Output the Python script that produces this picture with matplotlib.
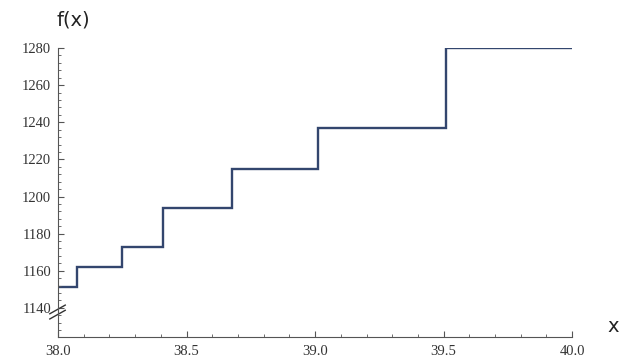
import matplotlib.pyplot as plt
import numpy as np

# Step function data
edges = [38.0, 38.074, 38.249, 38.409, 38.677, 39.012, 39.510, 40.0]
levels = [1151, 1162, 1173, 1194, 1215, 1237, 1280]

x_ticks = [38.0, 38.5, 39.0, 39.5, 40.0]
x_tick_labels = ["38.0", "38.5", "39.0", "39.5", "40.0"]
y_ticks = [1140, 1160, 1180, 1200, 1220, 1240, 1260, 1280]

line_color = "#33466e"
axis_color = "#555555"

fig = plt.figure(figsize=(6.24, 3.58), dpi=100)
ax = fig.add_axes([0.093, 0.059, 0.824, 0.807])

ax.stairs(levels, edges, baseline=None, color=line_color, linewidth=1.7)

ax.set_xlim(38.0, 40.0)
ax.set_ylim(1124.4, 1280)

for side in ["top", "right"]:
    ax.spines[side].set_visible(False)
for side in ["left", "bottom"]:
    ax.spines[side].set_color(axis_color)
    ax.spines[side].set_linewidth(0.8)

ax.set_xticks(x_ticks)
ax.set_xticklabels(x_tick_labels)
ax.set_xticks(np.arange(38.0, 40.01, 0.1), minor=True)
ax.set_yticks(y_ticks)
ax.set_yticks(np.arange(1128, 1281, 4), minor=True)

ax.tick_params(axis="both", which="major", direction="in", length=4,
               color=axis_color, labelcolor="#333333", labelsize=10.5)
ax.tick_params(axis="both", which="minor", direction="in", length=2,
               color=axis_color)
ax.tick_params(axis="x", pad=6)
ax.tick_params(axis="y", pad=5)
for lab in ax.get_xticklabels() + ax.get_yticklabels():
    lab.set_family("Liberation Serif")

# axis break marker on the y axis
for dy in (0.0, 0.018):
    ax.plot([-0.016, 0.014], [0.062 + dy, 0.092 + dy], transform=ax.transAxes,
            color="#333333", linewidth=1.0, clip_on=False)

fig.text(0.117, 0.945, "f(x)", fontsize=14, family="DejaVu Sans",
         ha="center", va="center", color="#222222")
fig.text(0.982, 0.087, "x", fontsize=14, family="DejaVu Sans",
         ha="center", va="center", color="#222222")

fig.savefig("out.png", dpi=100)
